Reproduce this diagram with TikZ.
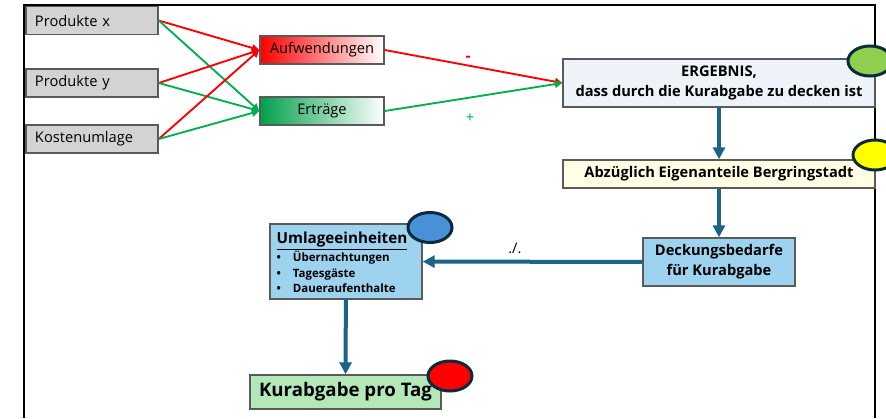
\documentclass[tikz,border=0pt]{standalone}
\usepackage{fontspec}
\setmainfont{Open Sans}
\usepackage{tikz}
\usetikzlibrary{
  arrows.meta,
  positioning,
  shapes.geometric
}
\definecolor{boxgray}{HTML}{5A5A5A}
\definecolor{ingray}{HTML}{D3D3D3}
\definecolor{redx}{HTML}{FF0000}
\definecolor{greenx}{HTML}{00B050}
\definecolor{greenbox}{HTML}{00A04A}
\definecolor{ergfill}{HTML}{EEF3F9}
\definecolor{abzfill}{HTML}{FFFDE3}
\definecolor{skyfill}{HTML}{9DD3EE}
\definecolor{kurfill}{HTML}{B5E8B8}
\definecolor{flowblue}{HTML}{1B6487}
\definecolor{markline}{HTML}{0B2B3D}
\definecolor{markgreen}{HTML}{8FCF4F}
\definecolor{markyellow}{HTML}{FFFF00}
\definecolor{markblue}{HTML}{4A90D6}
\definecolor{markred}{HTML}{FF0000}
\tikzset{
  inbox/.style={
    rectangle,
    draw=boxgray,
    line width=1.1pt,
    fill=ingray,
    minimum width=99pt,
    minimum height=21pt,
    text width=85.5pt,
    align=left,
    inner xsep=6.75pt,
    inner ysep=0pt,
    font=\fontsize{11}{13}\selectfont
  },
  gradbox/.style={
    rectangle,
    draw=boxgray,
    line width=1.1pt,
    minimum width=93pt,
    minimum height=21pt,
    inner sep=0pt,
    font=\fontsize{11}{13}\selectfont
  },
  flowbox/.style={
    rectangle,
    draw=boxgray,
    line width=1.1pt,
    align=center,
    inner sep=0pt,
    font=\bfseries\fontsize{11}{15}\selectfont
  },
  marker/.style={
    ellipse,
    draw=markline,
    line width=2.25pt,
    minimum width=33pt,
    minimum height=22.5pt,
    inner sep=0pt
  },
  redline/.style={
    -{Triangle[length=5.5pt,width=5.5pt]},
    line width=1.4pt,
    draw=redx
  },
  greenline/.style={
    -{Triangle[length=5.5pt,width=5.5pt]},
    line width=1.4pt,
    draw=greenx
  },
  flow/.style={
    -{Triangle[length=9pt,width=9pt]},
    line width=3pt,
    draw=flowblue
  }
}
\begin{document}
\begin{tikzpicture}[x=0.75pt,y=-0.75pt]
\useasboundingbox (0,0) rectangle (886,418);
\fill[white] (0,0) rectangle (886,418);
% frame
\draw[line width=1.5pt] (24,418) -- (24,5) -- (875,5) -- (875,418);

% inputs
\node[inbox] (px) at (92,20.5) {Produkte x};
\node[inbox] (py) at (92,83) {Produkte y};
\node[inbox] (kost) at (92,139) {Kostenumlage};

% costs and revenues
\node[gradbox,left color=redx,middle color=redx!60,right color=white] (aufw) at (322,50) {Aufwendungen};
\node[gradbox,left color=greenbox,middle color=greenbox!65,right color=white] (ertr) at (322,111) {Erträge};

\foreach \n in {px,py,kost} {
  \draw[redline] (\n.east) -- (aufw.west);
  \draw[greenline] (\n.east) -- (ertr.west);
}

% result chain
\node[flowbox,fill=ergfill,minimum width=234pt,minimum height=36pt] (erg) at (719,83) {ERGEBNIS,\\dass durch die Kurabgabe zu decken ist};
\node[flowbox,fill=abzfill,minimum width=234pt,minimum height=21pt] (abz) at (719,174) {Abzüglich Eigenanteile Bergringstadt};
\node[flowbox,fill=skyfill,minimum width=114pt,minimum height=36pt] (deck) at (719,262) {Deckungsbedarfe\\für Kurabgabe};
\node[flowbox,fill=skyfill,minimum width=114pt,minimum height=56.25pt,text width=104pt,align=left,inner xsep=5pt] (umlage) at (346,261.5) {\fontsize{11.4}{12}\selectfont\rule{0pt}{13.5pt}\underline{Umlageeinheiten}\\[-0.5pt]
  \fontsize{8.6}{11.6}\selectfont
  \begin{tabular}{@{}l@{\hspace{9pt}}l@{}}
  \textbullet & Übernachtungen\\
  \textbullet & Tagesgäste\\
  \textbullet & Daueraufenthalte
  \end{tabular}};
\node[flowbox,fill=kurfill,minimum width=143.25pt,minimum height=25.5pt,font=\bfseries\fontsize{14}{16}\selectfont] (kurab) at (345.5,392) {Kurabgabe pro Tag};

\draw[redline] (aufw.east) -- node[pos=0.47,above=-1pt,text=redx,font=\bfseries\fontsize{12}{14}\selectfont]{-} (erg.west);
\draw[greenline] (ertr.east) -- node[pos=0.48,below=8pt,text=greenx,font=\fontsize{11}{13}\selectfont]{+} (erg.west);
\draw[flow] (erg) -- (abz);
\draw[flow] (abz) -- (deck);
\draw[flow] (deck) -- node[pos=0.58,above=1pt,font=\fontsize{11}{13}\selectfont]{./.} (umlage);
\draw[flow] (umlage) -- (kurab);

% markers
\node[marker,fill=markgreen] (cgreen) at (870,61) {};
\node[marker,fill=markyellow] (cyellow) at (875,155) {};
\node[marker,fill=markblue] (cblue) at (430,227.5) {};
\node[marker,fill=markred] (cred) at (450,376) {};
\end{tikzpicture}
\end{document}
